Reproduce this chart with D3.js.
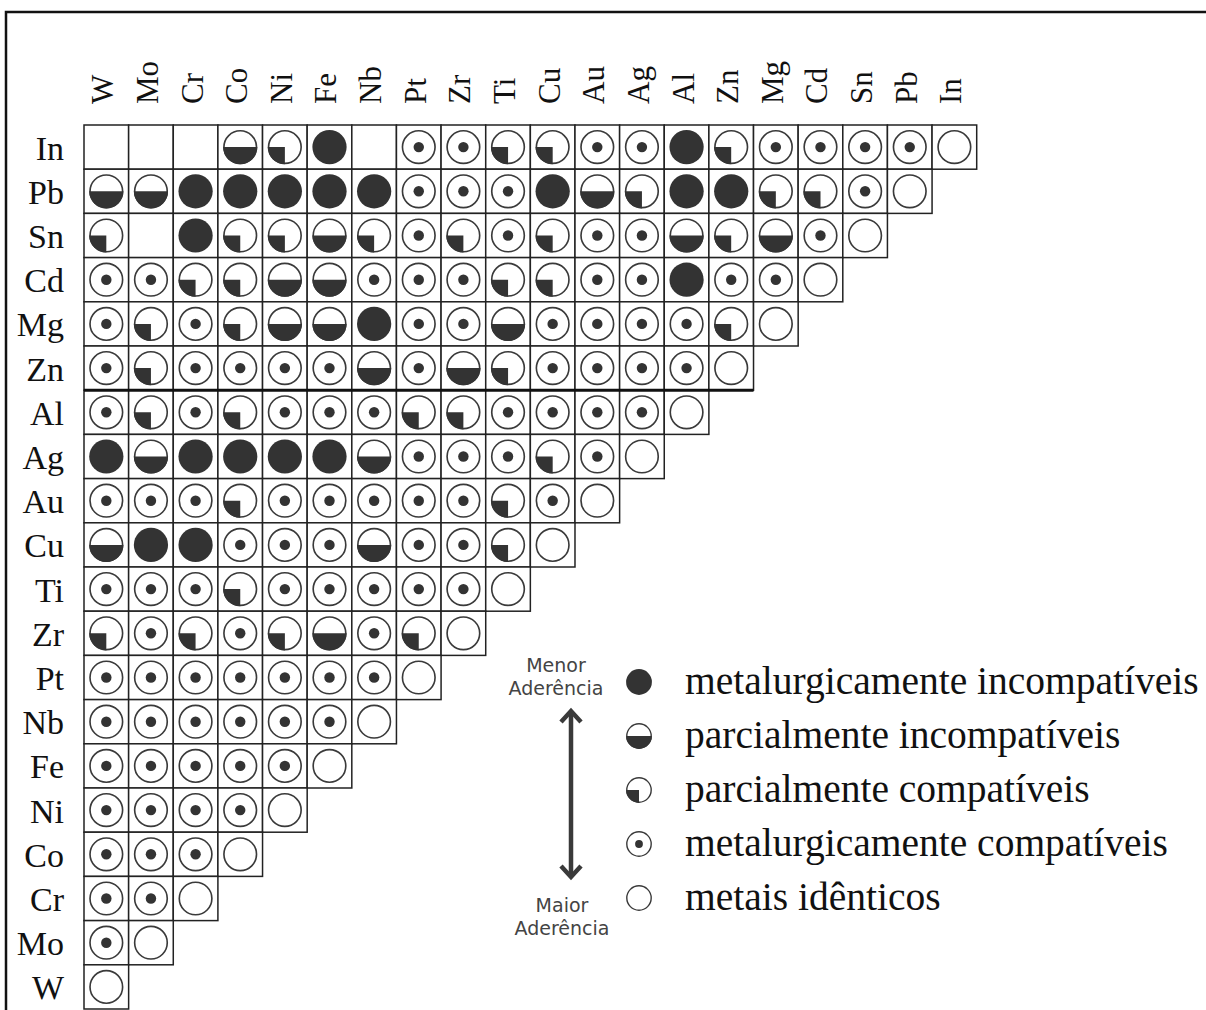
<!DOCTYPE html>
<html>
<head>
<meta charset="utf-8">
<script src="https://cdn.jsdelivr.net/npm/d3@7"></script>
<style>
  html, body { margin: 0; padding: 0; background: #fff; }
  svg { display: block; }
</style>
</head>
<body>
<svg id="chart" width="1206" height="1010"></svg>
<script>
// ---- data ----
const columns = ["W","Mo","Cr","Co","Ni","Fe","Nb","Pt","Zr","Ti","Cu","Au","Ag","Al","Zn","Mg","Cd","Sn","Pb","In"];
const rowLabels = ["In","Pb","Sn","Cd","Mg","Zn","Al","Ag","Au","Cu","Ti","Zr","Pt","Nb","Fe","Ni","Co","Cr","Mo","W"];
// codes: 0 = sem dado, 1 = metalurgicamente incompatíveis, 2 = parcialmente incompatíveis,
//        3 = parcialmente compatíveis, 4 = metalurgicamente compatíveis, 5 = metais idênticos
const rowIn = [0,0,0,2,3,1,0,4,4,3,3,4,4,1,3,4,4,4,4,5];
const rowPb = [2,2,1,1,1,1,1,4,4,4,1,2,3,1,1,3,3,4,5];
const rowSn = [3,0,1,3,3,2,3,4,3,4,3,4,4,2,3,2,4,5];
const rowCd = [4,4,3,3,2,2,4,4,4,3,3,4,4,1,4,4,5];
const rowMg = [4,3,4,3,2,2,1,4,4,2,4,4,4,4,3,5];
const rowZn = [4,3,4,4,4,4,2,4,2,3,4,4,4,4,5];
const rowAl = [4,3,4,3,4,4,4,3,3,4,4,4,4,5];
const rowAg = [1,2,1,1,1,1,2,4,4,4,3,4,5];
const rowAu = [4,4,4,3,4,4,4,4,4,3,4,5];
const rowCu = [2,1,1,4,4,4,2,4,4,3,5];
const rowTi = [4,4,4,3,4,4,4,4,4,5];
const rowZr = [3,4,3,4,3,2,4,3,5];
const rowPt = [4,4,4,4,4,4,4,5];
const rowNb = [4,4,4,4,4,4,5];
const rowFe = [4,4,4,4,4,5];
const rowNi = [4,4,4,4,5];
const rowCo = [4,4,4,5];
const rowCr = [4,4,5];
const rowMo = [4,5];
const rowW  = [5];
const rowValues = [rowIn,rowPb,rowSn,rowCd,rowMg,rowZn,rowAl,rowAg,rowAu,rowCu,rowTi,rowZr,rowPt,rowNb,rowFe,rowNi,rowCo,rowCr,rowMo,rowW];

const legendCodes = [1,2,3,4,5];
const legendLabels = ["metalurgicamente incompatíveis","parcialmente incompatíveis","parcialmente compatíveis","metalurgicamente compatíveis","metais idênticos"];
const arrowTopLabel = ["Menor","Aderência"];
const arrowBottomLabel = ["Maior","Aderência"];

// ---- drawing ----
const svg = d3.select("#chart");
const INK = "#333";
const GRID = "#222";

// frame
svg.append("path")
  .attr("d", "M6,1012 V12 H1210")
  .attr("fill", "none").attr("stroke", "#111").attr("stroke-width", 2.5);

const x = d3.scaleBand().domain(columns).range([84, 976.7]).padding(0);
const y = d3.scaleBand().domain(rowLabels).range([125, 1009]).padding(0);

const cells = [];
rowLabels.forEach((r, i) => {
  rowValues[i].forEach((v, j) => cells.push({ row: r, col: columns[j], v }));
});

const g = svg.append("g");

const cellG = g.selectAll("g.cell").data(cells).join("g")
  .attr("class", "cell")
  .attr("transform", d => `translate(${x(d.col)},${y(d.row)})`);

cellG.append("rect")
  .attr("width", x.bandwidth()).attr("height", y.bandwidth())
  .attr("fill", "#fff").attr("stroke", GRID).attr("stroke-width", 1.5);

function drawSymbol(sel, code, r) {
  const sw = Math.max(1.4, r * 0.1);
  if (code === 0) return;
  if (code === 1) {
    sel.append("circle").attr("r", r + sw / 2).attr("fill", INK);
    return;
  }
  sel.append("circle").attr("r", r).attr("fill", "#fff").attr("stroke", "#3a3a3a").attr("stroke-width", sw);
  if (code === 2) {
    sel.append("path")
      .attr("d", d3.arc()({ innerRadius: 0, outerRadius: r + sw / 2, startAngle: Math.PI / 2, endAngle: 3 * Math.PI / 2 }))
      .attr("fill", INK);
  } else if (code === 3) {
    sel.append("path")
      .attr("d", d3.arc()({ innerRadius: 0, outerRadius: r + sw / 2, startAngle: Math.PI, endAngle: 3 * Math.PI / 2 }))
      .attr("fill", INK);
  } else if (code === 4) {
    sel.append("circle").attr("r", r * 0.32).attr("fill", INK);
  }
}

cellG.each(function(d) {
  const s = d3.select(this).append("g")
    .attr("transform", `translate(${x.bandwidth() / 2},${y.bandwidth() / 2})`);
  drawSymbol(s, d.v, 16.3);
});

// thicker separator under Zn row
svg.append("line")
  .attr("x1", x("W")).attr("x2", x("Zn") + x.bandwidth())
  .attr("y1", y("Al")).attr("y2", y("Al"))
  .attr("stroke", "#111").attr("stroke-width", 3);

// row labels
svg.append("g").selectAll("text").data(rowLabels).join("text")
  .attr("x", 64)
  .attr("y", d => y(d) + y.bandwidth() / 2 + 12.5)
  .attr("text-anchor", "end")
  .attr("font-family", "'Liberation Serif', 'Times New Roman', serif")
  .attr("font-size", 34)
  .attr("fill", "#111")
  .text(d => d);

// column labels
svg.append("g").selectAll("text").data(columns).join("text")
  .attr("transform", d => `translate(${x(d) + x.bandwidth() / 2 + 7},104) rotate(-90)`)
  .attr("text-anchor", "start")
  .attr("font-family", "'Liberation Serif', 'Times New Roman', serif")
  .attr("font-size", 31)
  .attr("fill", "#111")
  .text(d => d);

// legend
const ly = d3.scalePoint().domain(legendCodes).range([682, 898]);
const leg = svg.append("g").selectAll("g").data(legendCodes).join("g")
  .attr("transform", d => `translate(639,${ly(d)})`);
leg.each(function(d) { drawSymbol(d3.select(this), d, 12.2); });
leg.append("text")
  .attr("x", 46).attr("y", 12)
  .attr("font-family", "'Liberation Serif', 'Times New Roman', serif")
  .attr("font-size", 39.5)
  .attr("fill", "#111")
  .text((d, i) => legendLabels[i]);

// arrow
const ax = 571, ay1 = 710, ay2 = 878;
const arrow = svg.append("g").attr("stroke", "#3a3a3a").attr("stroke-width", 4.5).attr("fill", "none").attr("stroke-linecap", "butt");
arrow.append("line").attr("x1", ax).attr("x2", ax).attr("y1", ay1 + 2).attr("y2", ay2 - 2);
arrow.append("path").attr("d", `M${ax - 10},${ay1 + 12} L${ax},${ay1 + 1} L${ax + 10},${ay1 + 12}`);
arrow.append("path").attr("d", `M${ax - 10},${ay2 - 12} L${ax},${ay2 - 1} L${ax + 10},${ay2 - 12}`);

const small = svg.append("g")
  .attr("font-family", "'DejaVu Sans', Verdana, sans-serif")
  .attr("font-size", 19)
  .attr("fill", "#444")
  .attr("text-anchor", "middle");
small.selectAll("text.top").data(arrowTopLabel).join("text").attr("class", "top")
  .attr("x", 556).attr("y", (d, i) => 672 + i * 23).text(d => d);
small.selectAll("text.bot").data(arrowBottomLabel).join("text").attr("class", "bot")
  .attr("x", 562).attr("y", (d, i) => 912 + i * 23).text(d => d);
</script>
</body>
</html>
